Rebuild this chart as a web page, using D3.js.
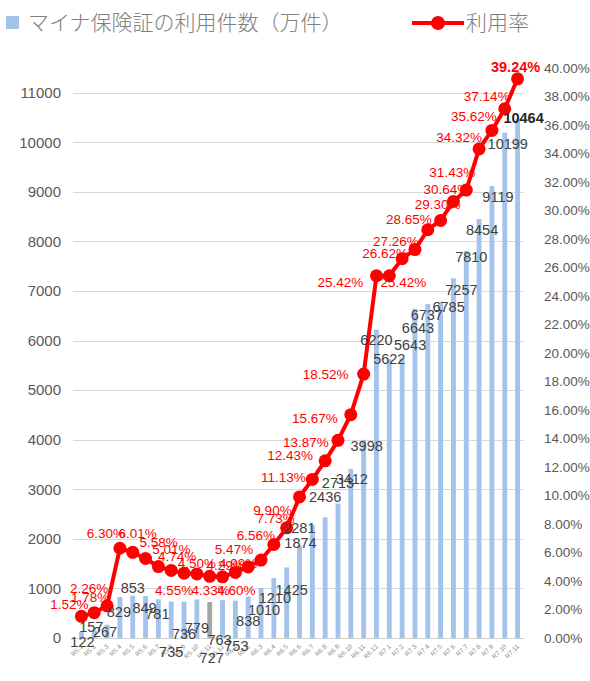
<!DOCTYPE html>
<html>
<head>
<meta charset="utf-8">
<script src="https://cdn.jsdelivr.net/npm/d3@7"></script>
<style>
  body { margin: 0; background: #fff; }
  svg { display: block; }
</style>
</head>
<body>
<div id="chart"></div>
<script>
// months (Reiwa year.month)
var months = ["R5.1", "R5.2", "R5.3", "R5.4", "R5.5", "R5.6", "R5.7", "R5.8", "R5.9", "R5.10", "R5.11", "R5.12",
  "R6.1", "R6.2", "R6.3", "R6.4", "R6.5", "R6.6", "R6.7", "R6.8", "R6.9", "R6.10", "R6.11", "R6.12",
  "R7.1", "R7.2", "R7.3", "R7.4", "R7.5", "R7.6", "R7.7", "R7.8", "R7.9", "R7.10", "R7.11"];

// マイナ保険証の利用件数（万件）
var counts = [122, 157, 267, 829, 853, 849, 781, 735, 736, 779, 727, 763,
  753, 838, 1010, 1210, 1425, 1874, 2281, 2436, 2713, 3412, 3998, 6220,
  5622, 5643, 6643, 6737, 6785, 7257, 7810, 8454, 9119, 10199, 10464];

// 利用率 (%)
var rates = [1.52, 1.78, 2.26, 6.30, 6.01, 5.58, 5.01, 4.74, 4.55, 4.50, 4.33, 4.29,
  4.60, 4.99, 5.47, 6.56, 7.73, 9.90, 11.13, 12.43, 13.87, 15.67, 18.52, 25.42,
  25.42, 26.62, 27.26, 28.65, 29.30, 30.64, 31.43, 34.32, 35.62, 37.14, 39.24];

var leftTicks = d3.range(0, 11001, 1000);
var rightTicks = d3.range(0, 40.01, 2);

// label nudges (as dragged around in the original sheet)
var countNudge = [[1,15],[-3,2],[-2,12],[-1,20],[0,-3],[-1,17],[-1,20],[0,55],[0,37],[0,34],[2,61],[-3,45],
  [1,50],[0,30],[3,27],[1,25],[5,28],[1,3],[-13,8],[0,-15],[0,-16],[1,15],[3,11],[0,15],
  [0,5],[8,-8],[3,24],[-1,16],[8,10],[8,17],[5,11],[3,16],[6,16],[3,17],[6,4]];
var rateNudge = [[-12,-7],[-4,-11],[-18,-13],[-14,-10],[5,-14],[13,-11],[13,-13],[6,-9],[-10,22],[0,-6],[1,19],[3,-7],
  [1,23],[-10,1],[-27,-6],[-18,-5],[-11,-5],[-27,18],[-29,3],[-35,-1],[-32,7],[-36,8],[-38,5],[-36,11],
  [14,11],[-17,-1],[-19,-4],[-19,-6],[-3,-11],[-7,-7],[-14,-13],[-20,-7],[-18,-9],[-18,-8],[-2,-7]];

var svgWidth = 590;
var svgHeight = 681;
var plot = { left: 75, right: 524, top: 68, bottom: 638 };

var svg = d3.select("#chart")
  .append("svg")
  .attr("width", svgWidth)
  .attr("height", svgHeight)
  .style("font-family", "'Liberation Sans', Arial, sans-serif");

var x = d3.scaleBand()
  .domain(months)
  .range([plot.left, plot.right])
  .paddingInner(0.62)
  .paddingOuter(0.31);

var yLeft = d3.scaleLinear().domain([0, 11500]).range([plot.bottom, plot.top]);
var yRight = d3.scaleLinear().domain([0, 40]).range([plot.bottom, plot.top]);

var cx = function(d, i) { return x(months[i]) + x.bandwidth() / 2; };

// gridlines
svg.append("g")
  .selectAll("line")
  .data(leftTicks.slice(1))
  .enter()
  .append("line")
  .attr("x1", plot.left - 2)
  .attr("x2", plot.right)
  .attr("y1", d => Math.round(yLeft(d)) + 0.5)
  .attr("y2", d => Math.round(yLeft(d)) + 0.5)
  .attr("stroke", "#d9d9d9")
  .attr("stroke-width", 1.2);

// left axis
var leftAxis = svg.append("g")
  .attr("transform", `translate(${plot.left - 14}, 0)`)
  .call(d3.axisLeft(yLeft).tickValues(leftTicks).tickSize(0).tickPadding(0).tickFormat(d3.format("d")));
leftAxis.select(".domain").remove();
leftAxis.selectAll("text")
  .attr("fill", "#595959")
  .style("font-size", "15px")
  .style("font-family", "'Liberation Sans', Arial, sans-serif");

// right axis
var rightAxis = svg.append("g")
  .attr("transform", `translate(${plot.right + 20}, 0)`)
  .call(d3.axisRight(yRight).tickValues(rightTicks).tickSize(0).tickPadding(0).tickFormat(d => d.toFixed(2) + "%"));
rightAxis.select(".domain").remove();
rightAxis.selectAll("text")
  .attr("fill", "#595959")
  .style("font-size", "13.5px")
  .style("font-family", "'Liberation Sans', Arial, sans-serif");

// bottom axis
var bottomAxis = svg.append("g")
  .attr("transform", `translate(0, ${plot.bottom})`)
  .call(d3.axisBottom(x).tickSize(0).tickPadding(0));
bottomAxis.select(".domain")
  .attr("stroke", "#d0d0d0")
  .attr("stroke-width", 1.2)
  .attr("d", `M${plot.left - 2},0.5H${plot.right}`);
bottomAxis.selectAll("text")
  .attr("fill", "#8c8c8c")
  .style("font-size", "6.5px")
  .style("font-family", "'Liberation Sans', Arial, sans-serif")
  .attr("text-anchor", "end")
  .attr("dy", null)
  .attr("y", 0)
  .attr("transform", "translate(2, 9) rotate(-45)");

// bars
svg.append("g")
  .selectAll("rect")
  .data(counts)
  .enter()
  .append("rect")
  .attr("x", (d, i) => x(months[i]))
  .attr("y", d => yLeft(d))
  .attr("width", x.bandwidth())
  .attr("height", d => plot.bottom - yLeft(d))
  .attr("fill", (d, i) => months[i] === "R5.11" ? "#a6a6a6" : "#a4c3ec");

// line
var line = d3.line()
  .x((d, i) => cx(d, i))
  .y(d => yRight(d));

svg.append("path")
  .datum(rates)
  .attr("d", line)
  .attr("fill", "none")
  .attr("stroke", "#ff0000")
  .attr("stroke-width", 4)
  .attr("stroke-linejoin", "round");

// rate labels
svg.append("g")
  .selectAll("text")
  .data(rates)
  .enter()
  .append("text")
  .attr("x", (d, i) => cx(d, i) + rateNudge[i][0])
  .attr("y", (d, i) => yRight(d) + rateNudge[i][1])
  .attr("text-anchor", "middle")
  .attr("fill", "#ff0000")
  .style("font-size", (d, i) => i === rates.length - 1 ? "14.5px" : "13.5px")
  .style("font-weight", (d, i) => i === rates.length - 1 ? "bold" : "normal")
  .text(d => d.toFixed(2) + "%");

// markers
svg.append("g")
  .selectAll("circle")
  .data(rates)
  .enter()
  .append("circle")
  .attr("cx", (d, i) => cx(d, i))
  .attr("cy", d => yRight(d))
  .attr("r", 6.5)
  .attr("fill", "#ff0000");

// count labels
svg.append("g")
  .selectAll("text")
  .data(counts)
  .enter()
  .append("text")
  .attr("x", (d, i) => cx(d, i) + countNudge[i][0])
  .attr("y", (d, i) => yLeft(d) + countNudge[i][1])
  .attr("text-anchor", "middle")
  .attr("fill", (d, i) => i === counts.length - 1 ? "#262626" : "#404040")
  .style("font-size", "14.5px")
  .style("font-weight", (d, i) => i === counts.length - 1 ? "bold" : "normal")
  .text(d => d);

// legend
var legend = svg.append("g");
legend.append("rect")
  .attr("x", 6)
  .attr("y", 16)
  .attr("width", 13)
  .attr("height", 13)
  .attr("fill", "#a4c3ec");
legend.append("text")
  .attr("x", 28)
  .attr("y", 30)
  .attr("fill", "#808080")
  .style("font-family", "'Noto Sans CJK JP', sans-serif")
  .style("font-size", "21px")
  .style("font-weight", 300)
  .text("マイナ保険証の利用件数（万件）");
legend.append("line")
  .attr("x1", 412)
  .attr("x2", 464)
  .attr("y1", 23)
  .attr("y2", 23)
  .attr("stroke", "#ff0000")
  .attr("stroke-width", 4);
legend.append("circle")
  .attr("cx", 438)
  .attr("cy", 23)
  .attr("r", 7)
  .attr("fill", "#ff0000");
legend.append("text")
  .attr("x", 466)
  .attr("y", 30)
  .attr("fill", "#808080")
  .style("font-family", "'Noto Sans CJK JP', sans-serif")
  .style("font-size", "21px")
  .style("font-weight", 300)
  .text("利用率");
</script>
</body>
</html>
